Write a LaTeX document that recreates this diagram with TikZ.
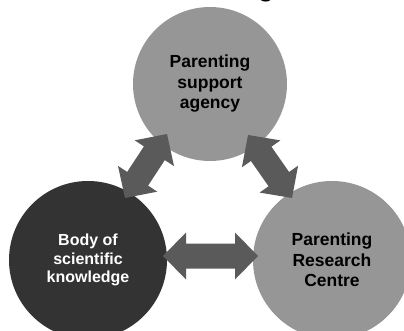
\documentclass[tikz,border=0pt]{standalone}
\usepackage{fontspec}
\setmainfont{Liberation Sans}
\usetikzlibrary{calc}
\definecolor{lightdisc}{HTML}{969696}
\definecolor{darkdisc}{HTML}{333333}
\definecolor{arrowgray}{HTML}{5A5A5A}
\tikzset{
  disc/.style={circle, inner sep=0pt, minimum size=#1, align=center, font=\bfseries},
  bigtext/.style={font=\fontsize{17.5}{20.5}\selectfont\bfseries},
  smalltext/.style={font=\fontsize{16}{18.5}\selectfont\bfseries},
}
% two-headed block arrow between two named points
\newcommand{\twowayarrow}[2]{%
  \path let \p1=($(#2)-(#1)$), \n1={veclen(\x1,\y1)}, \n2={atan2(\y1,\x1)} in
    [fill=arrowgray, shift={(#1)}, rotate=\n2]
    (0pt,0pt) -- (23pt,23.5pt) -- (23pt,12.5pt) -- (\n1-23pt,12.5pt)
    -- (\n1-23pt,23.5pt) -- (\n1,0pt) -- (\n1-23pt,-23.5pt)
    -- (\n1-23pt,-12.5pt) -- (23pt,-12.5pt) -- (23pt,-23.5pt) -- cycle;}
\begin{document}
\begin{tikzpicture}[x=1pt, y=-1pt]
\useasboundingbox (0,0) rectangle (404,331);
% tail of the title, cut by the page edge
\node[anchor=base, inner sep=0pt, font=\fontsize{26}{30}\selectfont\bfseries] (titletail) at (266,-3.5) {g};
% the three partners
\node[disc=154pt, fill=lightdisc, bigtext] (agency) at (210,84) {Parenting\\support\\agency};
\node[disc=158pt, fill=darkdisc, text=white, smalltext] (body) at (88,260) {Body of\\scientific\\knowledge};
\node[disc=158pt, fill=lightdisc, bigtext] (centre) at (332,260) {Parenting\\Research\\Centre};
% arrow ends
\coordinate (bodyUp) at (125,198);
\coordinate (agencyLeft) at (167,134);
\coordinate (agencyRight) at (248,135);
\coordinate (centreUp) at (292,198);
\coordinate (bodyRight) at (163,256);
\coordinate (centreLeft) at (258,256);
\twowayarrow{bodyUp}{agencyLeft}
\twowayarrow{agencyRight}{centreUp}
\twowayarrow{bodyRight}{centreLeft}
\end{tikzpicture}
\end{document}
